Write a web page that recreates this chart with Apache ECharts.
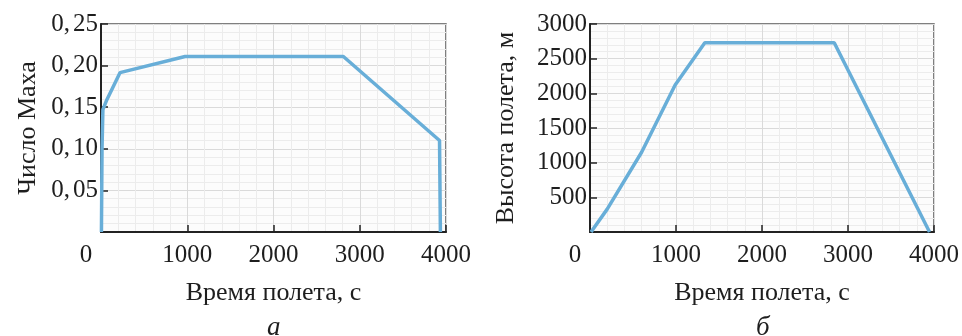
<!DOCTYPE html>
<html>
<head>
<meta charset="utf-8">
<script src="https://cdn.jsdelivr.net/npm/echarts@6/dist/echarts.min.js"></script>
<style>
  html, body { margin: 0; padding: 0; background: #fff; }
  #chart { width: 962px; height: 336px; }
</style>
</head>
<body>
<div id="chart"></div>
<script>
const machTime = [5, 12, 22, 68, 220, 975, 2810, 3925, 3935];
const machValue = [0, 0.10, 0.147, 0.159, 0.1915, 0.211, 0.211, 0.11, 0];

const altTime = [12, 200, 600, 990, 1335, 2840, 3948];
const altValue = [0, 330, 1150, 2120, 2730, 2730, 0];

const timeTicks = [0, 1000, 2000, 3000, 4000];
const machTicks = [0.05, 0.10, 0.15, 0.20, 0.25];
const altTicks = [500, 1000, 1500, 2000, 2500, 3000];

const FONT = '"Liberation Serif", "DejaVu Serif", serif';
const LINE = '#68aed8';
const TXT = '#1e1e1e';

const myChart = echarts.init(document.getElementById('chart'));

function xAxisFor(gridIndex) {
  return {
    type: 'value',
    gridIndex: gridIndex,
    min: timeTicks[0],
    max: timeTicks[timeTicks.length - 1],
    interval: 1000,
    name: 'Время полета, с',
    nameLocation: 'middle',
    nameGap: 48,
    nameTextStyle: { fontFamily: FONT, fontSize: 26, color: TXT },
    axisLine: { show: true, lineStyle: { color: '#222', width: 2 } },
    axisTick: { show: true, inside: true, length: 7, lineStyle: { color: '#222', width: 1.5 } },
    axisLabel: {
      margin: 11,
      fontFamily: FONT,
      fontSize: 25,
      color: TXT,
      formatter: v => v === 0 ? '{z|0}' : String(v),
      rich: { z: { fontFamily: FONT, fontSize: 25, color: TXT, padding: [0, 30, 0, 0] } }
    },
    splitLine: { show: true, lineStyle: { color: '#dadada', width: 1 } },
    minorTick: { show: false, splitNumber: 5 },
    minorSplitLine: { show: true, lineStyle: { color: '#ececec', width: 1 } }
  };
}

function yAxisFor(gridIndex, ticks, name, gap, fmt) {
  return {
    type: 'value',
    gridIndex: gridIndex,
    min: 0,
    max: ticks[ticks.length - 1],
    interval: ticks[1] - ticks[0],
    name: name,
    nameLocation: 'middle',
    nameRotate: 90,
    nameGap: gap,
    nameTextStyle: { fontFamily: FONT, fontSize: 26, color: TXT },
    axisLine: { show: true, lineStyle: { color: '#222', width: 2 } },
    axisTick: { show: true, inside: true, length: 7, lineStyle: { color: '#222', width: 1.5 } },
    axisLabel: {
      margin: 3,
      fontFamily: FONT,
      fontSize: 25,
      color: TXT,
      formatter: v => v === 0 ? '' : fmt(v),
      rich: {
        a: { fontFamily: FONT, fontSize: 25, color: TXT },
        b: { fontFamily: FONT, fontSize: 25, color: TXT, padding: [0, 0, 0, 3] }
      }
    },
    splitLine: { show: true, lineStyle: { color: '#dadada', width: 1 } },
    minorTick: { show: false, splitNumber: 5 },
    minorSplitLine: { show: true, lineStyle: { color: '#ececec', width: 1 } }
  };
}

// десятичная запятая с небольшим отступом, как в оригинале
function machFmt(v) {
  const parts = v.toFixed(2).split('.');
  return '{a|' + parts[0] + ',}{b|' + parts[1] + '}';
}

let option = {
  animation: false,
  backgroundColor: '#fff',
  grid: [
    { left: 101, top: 24, width: 345, height: 208, show: true, borderColor: '#555', borderWidth: 1.5, backgroundColor: '#fcfcfc' },
    { left: 590, top: 24, width: 345, height: 208, show: true, borderColor: '#555', borderWidth: 1.5, backgroundColor: '#fcfcfc' }
  ],
  xAxis: [xAxisFor(0), xAxisFor(1)],
  yAxis: [
    yAxisFor(0, machTicks, 'Число Маха', 60, machFmt),
    yAxisFor(1, altTicks, 'Высота полета, м', 71, v => String(v))
  ],
  series: [
    {
      name: 'Число Маха',
      type: 'line',
      xAxisIndex: 0,
      yAxisIndex: 0,
      data: machTime.map((t, i) => [t, machValue[i]]),
      showSymbol: false,
      lineStyle: { color: LINE, width: 3.5 }
    },
    {
      name: 'Высота',
      type: 'line',
      xAxisIndex: 1,
      yAxisIndex: 1,
      data: altTime.map((t, i) => [t, altValue[i]]),
      showSymbol: false,
      lineStyle: { color: LINE, width: 3.5 }
    }
  ],
  graphic: [
    { type: 'text', left: 267, top: 314, style: { text: 'а', fontFamily: FONT, fontSize: 27, fontStyle: 'italic', fill: TXT } },
    { type: 'text', left: 756, top: 314, style: { text: 'б', fontFamily: FONT, fontSize: 27, fontStyle: 'italic', fill: TXT } }
  ]
};
myChart.setOption(option);
</script>
</body>
</html>
